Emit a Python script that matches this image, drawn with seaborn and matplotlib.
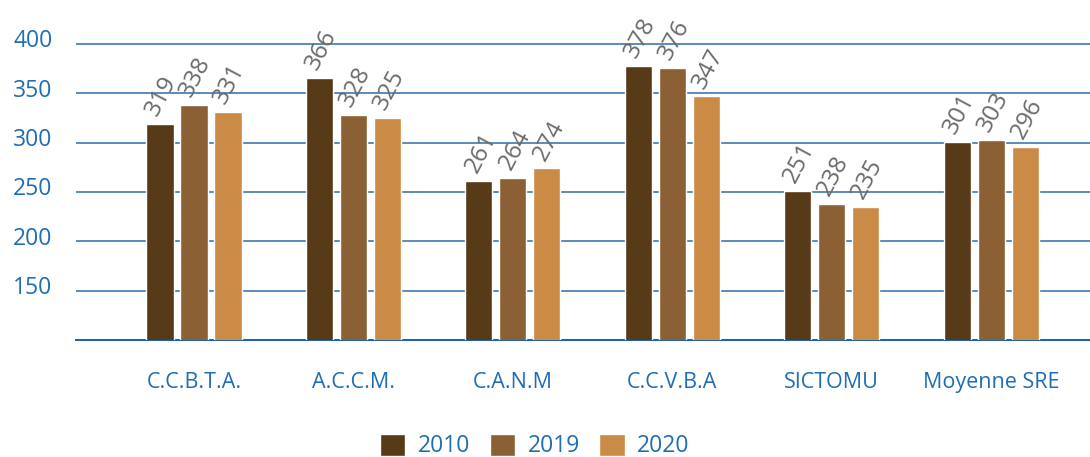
import matplotlib
matplotlib.use("Agg")
import matplotlib.pyplot as plt
import matplotlib.transforms as mtransforms
import seaborn as sns
import pandas as pd

categories = ["C.C.B.T.A.", "A.C.C.M.", "C.A.N.M", "C.C.V.B.A", "SICTOMU", "Moyenne SRE"]
years = ["2010", "2019", "2020"]
values_2010 = [319, 366, 261, 378, 251, 301]
values_2019 = [338, 328, 264, 376, 238, 303]
values_2020 = [331, 325, 274, 347, 235, 296]
yticks = [150, 200, 250, 300, 350, 400]

colors = ["#573A17", "#8A6034", "#C98B45"]
blue = "#1F6DB5"
grid_blue = "#2E6DA8"

rows = []
for yr, vals in zip(years, [values_2010, values_2019, values_2020]):
    for c, v in zip(categories, vals):
        rows.append({"cat": c, "year": yr, "value": v})
df = pd.DataFrame(rows)

sns.set_style("white")
plt.rcParams["font.family"] = ["Open Sans", "DejaVu Sans"]

fig = plt.figure(figsize=(10.9, 4.57), dpi=100)
ax = fig.add_axes([76 / 1090, (457 - 340) / 457, 1 - 76 / 1090, 340 / 457])

sns.barplot(data=df, x="cat", y="value", hue="year", order=categories,
            hue_order=years, palette=colors, width=0.64, gap=0.2,
            ax=ax, saturation=1, legend=True, zorder=3)

ax.set_ylim(100, 444.6)
ax.set_xlim(-0.74, 5.62)
ax.set_yticks(yticks)
ax.set_yticklabels([str(t) for t in yticks], fontsize=16.5, color=blue)
for t in yticks:
    ax.axhline(t, color=grid_blue, lw=1.1, zorder=1)
ax.tick_params(axis="y", length=0, pad=17)
ax.tick_params(axis="x", length=0, pad=23, labelsize=15.5, labelcolor=blue)
offset = mtransforms.ScaledTranslation(0, 4 / 72, fig.dpi_scale_trans)
for lbl in ax.get_yticklabels():
    lbl.set_transform(lbl.get_transform() + offset)
ax.set_xlabel("")
ax.set_ylabel("")
for s in ["top", "right", "left"]:
    ax.spines[s].set_visible(False)
ax.spines["bottom"].set_color("#1A5FA8")
ax.spines["bottom"].set_linewidth(1.4)

for cont in ax.containers:
    for bar in cont:
        h = bar.get_height()
        ax.text(bar.get_x() + bar.get_width() * 0.6, h + 4, f"{int(round(h))}",
                rotation=62, ha="left", va="bottom", rotation_mode="anchor",
                fontsize=17.5, color="#6A6A6A", zorder=4)

leg = ax.legend(loc="center", bbox_to_anchor=(535 / 1090, (457 - 446) / 457),
                bbox_transform=fig.transFigure, ncol=3, frameon=False,
                handlelength=1.1, handleheight=1.1, handletextpad=0.55,
                columnspacing=0.85, fontsize=16.5)
for txt in leg.get_texts():
    txt.set_color(blue)

fig.savefig("out.png", dpi=100)
